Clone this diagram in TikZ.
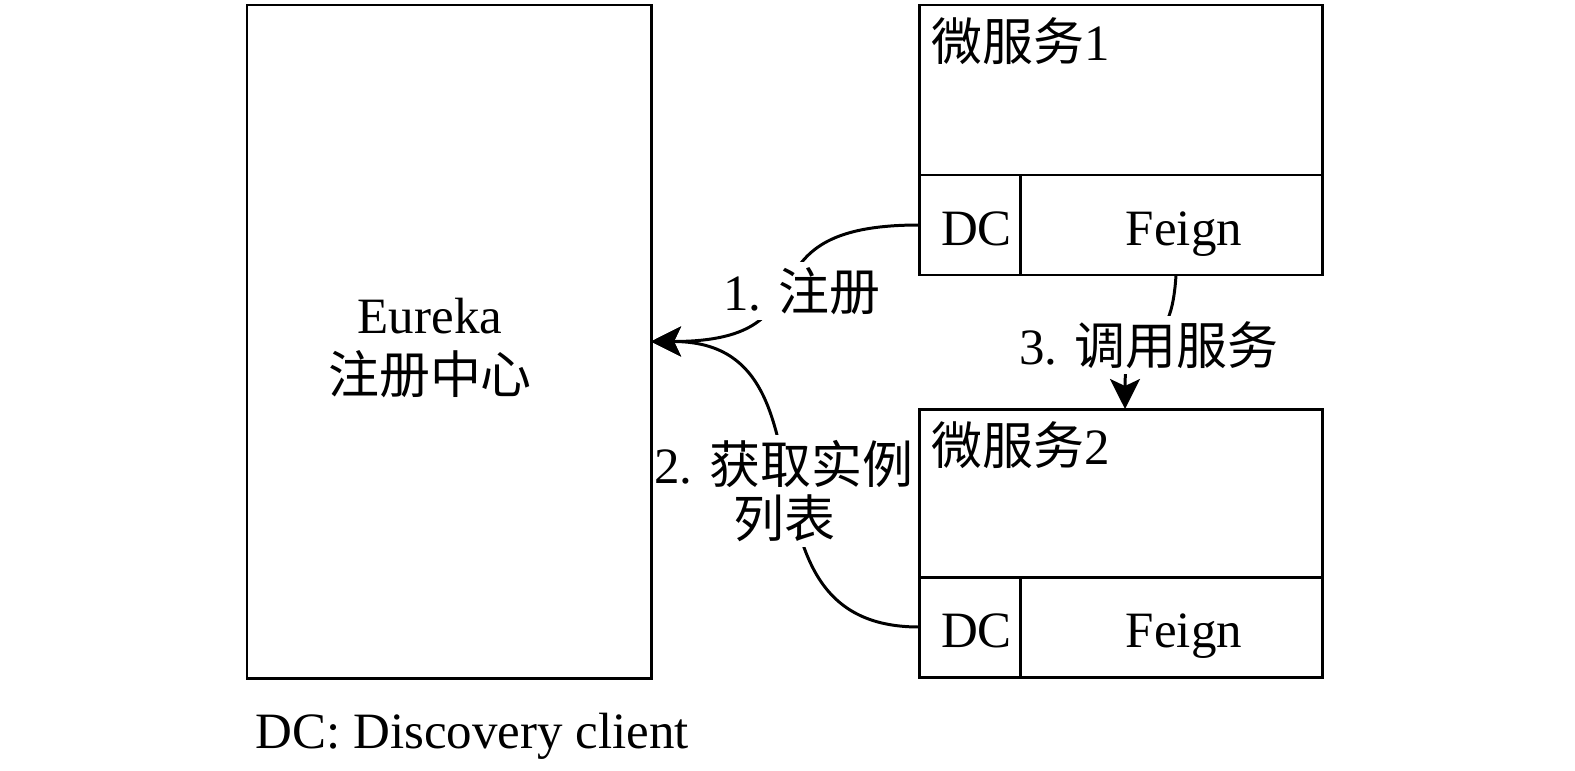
\documentclass[tikz,border=0pt]{standalone}
\usepackage{fontspec}
\setmainfont{Liberation Serif}
\newfontfamily\cjk{Noto Sans CJK SC}
\usetikzlibrary{arrows.meta,positioning,backgrounds}
\tikzset{
  box/.style={draw, line width=0.85pt, outer sep=0pt, inner sep=0pt},
  cell/.style={box, minimum height=10mm},
  celltext/.style={inner sep=0pt, text height=0.7em, text depth=0pt, yshift=-0.8mm},
  tag/.style={fill=white, inner sep=0.5mm, align=center},
  link/.style={line width=0.85pt},
  call/.style={link, -{Stealth[length=3mm, width=3mm, inset=0.7mm]}},
  title/.style={anchor=north west, inner sep=1.2mm},
}

\begin{document}
\begin{tikzpicture}[x=0.1mm, y=-0.1mm, font=\fontsize{14.5}{15.6}\selectfont]
\useasboundingbox (0,0) rectangle (1575,770);
% registry
\node[box, minimum width=40.4mm, minimum height=67.3mm] (eureka) at (449,341.5) {};
\node[align=center] (eurekatxt) at (430,348) {Eureka\\[0.6mm]{\cjk 注册中心}};
% service 1
\node[box, minimum width=40.3mm, minimum height=17mm,
  label={[title]north west:{\cjk 微服务}1}] (ms1) at (1120.5,90) {};
\node[cell, minimum width=10.1mm, below right=0pt of ms1.south west,
  label={[celltext, xshift=0.7mm]center:DC}] (dc1) {};
\node[cell, minimum width=30.2mm, right=0pt of dc1,
  label={[celltext, xshift=1.3mm]center:Feign}] (feign1) {};
% service 2
\node[box, minimum width=40.3mm, minimum height=16.8mm,
  label={[title]north west:{\cjk 微服务}2}] (ms2) at (1120.5,493) {};
\node[cell, minimum width=10.1mm, below right=0pt of ms2.south west,
  label={[celltext, xshift=0.7mm]center:DC}] (dc2) {};
\node[cell, minimum width=30.2mm, right=0pt of dc2,
  label={[celltext, xshift=1.3mm]center:Feign}] (feign2) {};
% connectors and their labels, under the boxes
\begin{scope}[on background layer]
\draw[call] (dc1.west) .. controls +(-190,0) and +(190,0) .. (eureka.east);
\draw[call] (dc2.west) .. controls +(-199,0) and +(199,0) .. (eureka.east);
\draw[call] ([xshift=0.5mm]feign1.south) .. controls +(-6,100) and +(0,-100) .. ([xshift=0.45mm]ms2.north);
\node[tag] (reg) at (802,291) {1. {\cjk 注册}};
\node[tag] (fetch) at (784,491) {2. {\cjk 获取实例}\\{\cjk 列表}};
\node[tag] (invoke) at (1149,345) {3. {\cjk 调用服务}};
\end{scope}
\node[anchor=base west, inner sep=0pt] (note) at (255,748) {DC: Discovery client};
\end{tikzpicture}
\end{document}
